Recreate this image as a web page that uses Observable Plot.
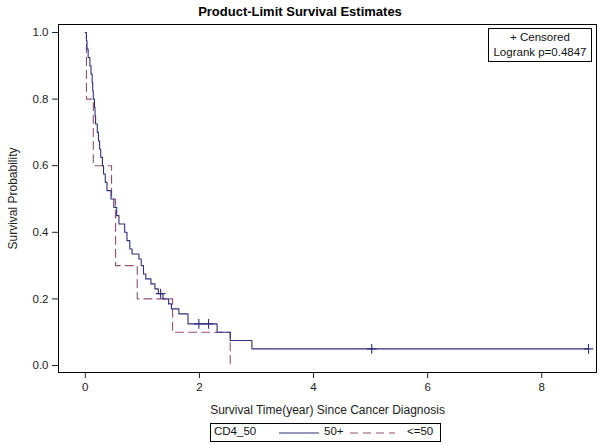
<!DOCTYPE html>
<html>
<head>
<meta charset="utf-8">
<script src="https://cdn.jsdelivr.net/npm/d3@7"></script>
<script src="https://cdn.jsdelivr.net/npm/@observablehq/plot@0.6"></script>
<style>
  body { margin: 0; background: #fff; font-family: "Liberation Sans", Arial, sans-serif; }
  #wrap { position: relative; width: 600px; height: 445px; overflow: hidden; }
  #title { position: absolute; left: 0; width: 600px; top: 4px; text-align: center; font-weight: bold; font-size: 13px; color: #000; }
  #inset { position: absolute; left: 488px; top: 28px; width: 102px; border: 1px solid #000; font-size: 11.5px; text-align: center; line-height: 15px; color: #111; padding: 1px 0; background: #fff; }
  #legend { position: absolute; left: 210px; top: 423px; width: 229px; height: 17px; border: 1px solid #000; font-size: 11.5px; color: #111; }
  #legend span { position: absolute; top: 1px; }
  #legend svg { position: absolute; left: 0; top: 0; }
</style>
</head>
<body>
<div id="wrap">
  <div id="chart"></div>
  <div id="title">Product-Limit Survival Estimates</div>
  <div id="inset"><div>+ Censored</div><div>Logrank p=0.4847</div></div>
  <div id="legend"></div>
</div>
<script>
// ---- data ----
const groupName = "CD4_50";
const groupLabels = ["50+", "<=50"];
const colors = ["#2f2f7c", "#93506e"];

// group 50+ : step times and survival after each step
const timeHigh = [0, 0.02, 0.03, 0.05, 0.08, 0.10, 0.12, 0.13, 0.14, 0.16, 0.17, 0.18, 0.21, 0.23, 0.25, 0.27, 0.30, 0.32, 0.35, 0.38, 0.45, 0.50, 0.55, 0.59, 0.69, 0.73, 0.78, 0.82, 0.94, 0.98, 1.02, 1.06, 1.15, 1.22, 1.28, 1.36, 1.46, 1.51, 1.64, 1.80, 2.31, 2.54, 2.92, 8.82];
const survHigh = [1.0, 0.975, 0.95, 0.925, 0.90, 0.875, 0.85, 0.825, 0.80, 0.775, 0.75, 0.725, 0.70, 0.675, 0.65, 0.625, 0.60, 0.575, 0.55, 0.525, 0.50, 0.475, 0.45, 0.425, 0.40, 0.375, 0.35, 0.335, 0.32, 0.30, 0.275, 0.26, 0.245, 0.23, 0.216, 0.20, 0.185, 0.17, 0.155, 0.125, 0.10, 0.075, 0.05, 0.05];
const censorTimeHigh = [1.32, 1.99, 2.16, 5.02, 8.82];
const censorSurvHigh = [0.216, 0.125, 0.125, 0.05, 0.05];

// group <=50
const timeLow = [0, 0.02, 0.14, 0.46, 0.53, 0.91, 1.53, 2.54];
const survLow = [1.0, 0.8, 0.6, 0.5, 0.3, 0.2, 0.1, 0.0];

const xTicks = [0, 2, 4, 6, 8];
const yTicks = [0, 0.2, 0.4, 0.6, 0.8, 1.0];

const high = timeHigh.map((t, i) => ({t, s: survHigh[i]}));
const low = timeLow.map((t, i) => ({t, s: survLow[i]}));
const cens = censorTimeHigh.map((t, i) => ({t, s: censorSurvHigh[i]}));

const chart = Plot.plot({
  width: 600,
  height: 445,
  marginTop: 24,
  marginBottom: 73,
  marginLeft: 58,
  marginRight: 4,
  style: {fontFamily: "Liberation Sans, Arial, sans-serif", fontSize: "11.5px", color: "#222", background: "#fff"},
  x: {domain: [-0.47, 8.96], ticks: xTicks, tickFormat: d3.format("d"), label: null},
  y: {domain: [-0.021, 1.024], ticks: yTicks, tickFormat: d3.format(".1f"), label: null},
  marks: [
    Plot.axisX({ticks: xTicks, tickSize: 6, tickPadding: 4, tickFormat: d3.format("d"), label: null}),
    Plot.axisY({ticks: yTicks, tickSize: 6, tickPadding: 4, tickFormat: d3.format(".1f"), label: null}),
    Plot.axisX({ticks: [], label: "Survival Time(year) Since Cancer Diagnosis", labelAnchor: "center", labelArrow: "none", labelOffset: 41, fontSize: 12}),
    Plot.axisY({ticks: [], label: "Survival Probability", labelAnchor: "center", labelArrow: "none", labelOffset: 50, fontSize: 12}),
    Plot.line(low, {x: "t", y: "s", curve: "step-after", stroke: colors[1], strokeWidth: 1.1, strokeDasharray: "8,5"}),
    Plot.line(high, {x: "t", y: "s", curve: "step-after", stroke: colors[0], strokeWidth: 1.1}),
    Plot.dot(cens, {x: "t", y: "s", symbol: "plus", r: 3.2, stroke: colors[0], strokeWidth: 1.1}),
    Plot.frame({stroke: "#000", strokeWidth: 1})
  ]
});
document.getElementById("chart").appendChild(chart);

// legend
const leg = document.getElementById("legend");
leg.innerHTML =
  `<svg width="229" height="17">
     <line x1="68" x2="108" y1="9" y2="9" stroke="${colors[0]}" stroke-width="1.1"/>
     <line x1="139" x2="184" y1="9" y2="9" stroke="${colors[1]}" stroke-width="1.1" stroke-dasharray="8,5"/>
   </svg>
   <span style="left:3px">${groupName}</span>
   <span style="left:113px">${groupLabels[0]}</span>
   <span style="left:196px">${groupLabels[1]}</span>`;
</script>
</body>
</html>
